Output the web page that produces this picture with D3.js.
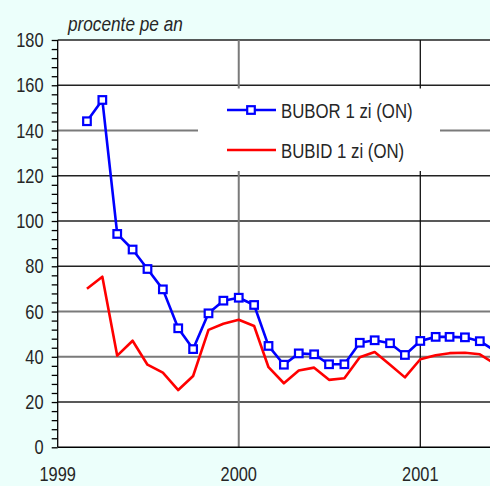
<!DOCTYPE html>
<html><head><meta charset="utf-8">
<script src="https://cdn.jsdelivr.net/npm/d3@7"></script>
<style>
html,body{margin:0;padding:0;background:#ecfffb;}
svg{display:block;}
text{font-family:"Liberation Sans",Arial,Helvetica,sans-serif;fill:#262626;}
</style></head>
<body>
<svg id="c" width="490" height="486"></svg>
<script>
// Months (index 0 = Jan 1999), data starts at Mar 1999
const months = ["1999-03","1999-04","1999-05","1999-06","1999-07","1999-08","1999-09","1999-10","1999-11","1999-12",
  "2000-01","2000-02","2000-03","2000-04","2000-05","2000-06","2000-07","2000-08","2000-09","2000-10","2000-11","2000-12",
  "2001-01","2001-02","2001-03","2001-04","2001-05","2001-06"];
const bubor = [144.1,153.5,94.3,87.4,78.8,69.8,52.6,43.4,59.2,64.8,
  66.1,62.9,44.8,36.5,41.5,41.1,36.7,36.7,46.2,47.3,46.0,40.8,
  47.0,48.8,48.8,48.6,46.9,42.6];
const bubid = [70.1,75.4,40.5,47.1,36.5,33.0,25.3,31.5,51.9,54.6,
  56.4,53.6,35.4,28.3,33.9,35.2,29.8,30.5,39.8,42.1,36.5,30.9,
  38.9,40.7,41.6,41.8,41.1,36.8];
const yearTicks = ["1999","2000","2001"];
const yTicks = [0,20,40,60,80,100,120,140,160,180];
const seriesNames = ["BUBOR 1 zi (ON)","BUBID 1 zi (ON)"];
const yTitle = "procente pe an";

const parse = d3.timeParse("%Y-%m");
const dates = months.map(parse);
const svg = d3.select("#c");
const SX = 0.82; // condensed text

function ctext(parent, x, yy, str, size, anchor, italic){
  const g = parent.append("g").attr("transform",`translate(${x},${yy}) scale(${SX},1)`);
  const t = g.append("text").attr("x",0).attr("y",0).attr("font-size",size).attr("text-anchor",anchor||"start").text(str);
  if(italic) t.attr("font-style","italic");
  return g;
}

const x = d3.scaleTime().domain([parse("1999-01"), parse("2001-01")]).range([57.7, 420.3]);
const y = d3.scaleLinear().domain([0,180]).range([447.3, 40]);

svg.append("rect").attr("x",57.7).attr("y",y(180)).attr("width",490-57.7).attr("height",y(0)-y(180)).attr("fill","#fff");

const grayLines = new Set([140,60,40]);
svg.append("g").selectAll("line").data(yTicks.filter(d=>d>0)).join("line")
  .attr("x1",57.7).attr("x2",490).attr("y1",d=>y(d)).attr("y2",d=>y(d))
  .attr("stroke",d=>grayLines.has(d)?"#7a7a7a":"#222")
  .attr("stroke-width",d=>grayLines.has(d)?2:1.4);
svg.append("g").selectAll("line").data(yearTicks.slice(1)).join("line")
  .attr("x1",d=>x(parse(d+"-01"))).attr("x2",d=>x(parse(d+"-01")))
  .attr("y1",y(180)).attr("y2",y(0))
  .attr("stroke",(d,i)=>i==0?"#7a7a7a":"#111")
  .attr("stroke-width",(d,i)=>i==0?2:1.3);

const lg = svg.append("g");
lg.append("rect").attr("x",198).attr("y",88.5).attr("width",242).attr("height",82.5).attr("fill","#fff");

const yAxis = d3.axisLeft(y).tickValues(d3.range(0,181,4)).tickSize(6).tickFormat("");
const ga = svg.append("g").attr("transform","translate(57.7,0)").call(yAxis);
ga.selectAll("path,line").attr("stroke","#000").attr("stroke-width",1.3);
ga.select(".domain").attr("d",`M0,${y(180)}V${y(0)}`);
const yl = svg.append("g");
yTicks.forEach(d=>ctext(yl, 43.5, y(d)+7, String(d), 20, "end"));
svg.append("line").attr("x1",57.7).attr("x2",490).attr("y1",y(0)).attr("y2",y(0)).attr("stroke","#000").attr("stroke-width",1.4);
const xl = svg.append("g");
yearTicks.forEach(d=>ctext(xl, x(parse(d+"-01")), 481, d, 20, "middle"));
ctext(svg, 68, 31, yTitle, 21, "start", true);

const line = d3.line().x((d,i)=>x(dates[i])).y(d=>y(d));
svg.append("path").datum(bubid).attr("d",line).attr("fill","none").attr("stroke","#ff0000").attr("stroke-width",2.6).attr("stroke-linejoin","round");
svg.append("path").datum(bubor).attr("d",line).attr("fill","none").attr("stroke","#0000ff").attr("stroke-width",2.6).attr("stroke-linejoin","round");
svg.append("g").selectAll("rect").data(bubor).join("rect")
  .attr("x",(d,i)=>x(dates[i])-3.8).attr("y",d=>y(d)-3.8).attr("width",7.6).attr("height",7.6)
  .attr("fill","#fff").attr("stroke","#0000ff").attr("stroke-width",2.2);

lg.append("line").attr("x1",227).attr("x2",276).attr("y1",110).attr("y2",110).attr("stroke","#0000ff").attr("stroke-width",2.6);
lg.append("rect").attr("x",251-3.8).attr("y",110-3.8).attr("width",7.6).attr("height",7.6).attr("fill","#fff").attr("stroke","#0000ff").attr("stroke-width",2.2);
ctext(lg, 281, 118, seriesNames[0], 20.5);
lg.append("line").attr("x1",227).attr("x2",276).attr("y1",150).attr("y2",150).attr("stroke","#ff0000").attr("stroke-width",2.6);
ctext(lg, 281, 158, seriesNames[1], 20.5);
</script>
</body></html>
